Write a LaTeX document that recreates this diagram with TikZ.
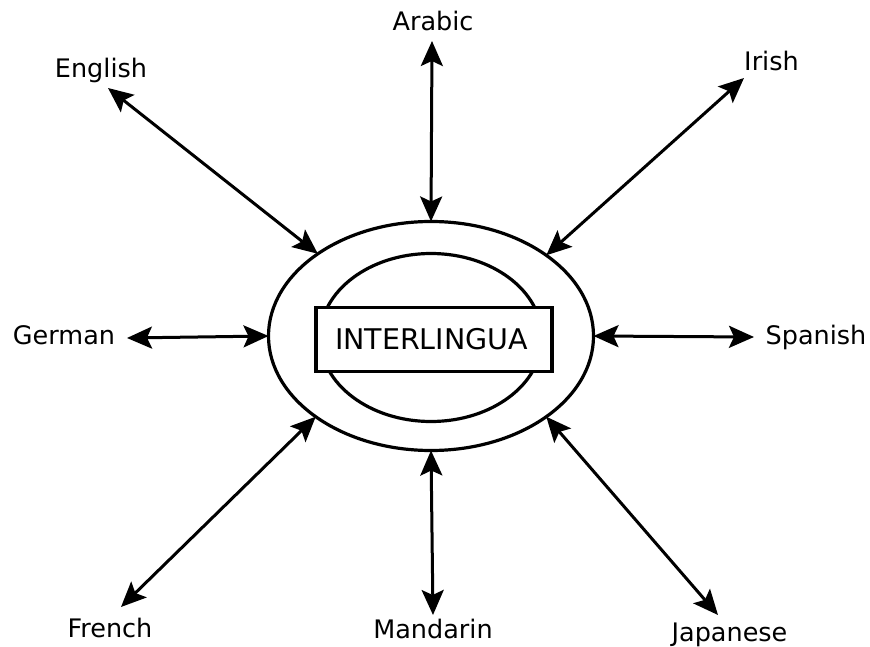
\documentclass[tikz,border=0pt]{standalone}
\usepackage{fontspec}
\setmainfont{DejaVu Sans}
\usetikzlibrary{arrows.meta,shapes.geometric}
\begin{document}
\begin{tikzpicture}[x=1pt,y=-1pt,
  lang/.style={anchor=base,inner sep=0pt,font=\fontsize{25.5}{30}\selectfont},
  ring/.style={draw,ellipse,line width=3.2pt,inner sep=0pt,outer sep=0pt},
  box/.style={draw,rectangle,line width=3.2pt,inner sep=0pt,minimum width=236pt,minimum height=64pt,font=\fontsize{28.5}{34}\selectfont},
  link/.style={line width=3pt,{Stealth[length=25pt 0 0,width=22pt 0 0,inset=5pt 0 0]}-{Stealth[length=25pt 0 0,width=22pt 0 0,inset=5pt 0 0]}}]
\useasboundingbox (0,0) rectangle (870,647);
% central shapes
\node[ring,minimum width=325pt,minimum height=229pt] (outer) at (431,336) {};
\node[ring,minimum width=222pt,minimum height=168pt] (inner) at (431,337.5) {};
\node[box,fill=white] (ilang) at (434,339.5) {\hspace*{-5pt}INTERLINGUA};
% labels
\node[lang] (arabic) at (433,31) {Arabic};
\node[lang] (english) at (101,78) {English};
\node[lang] (irish) at (771.5,71) {Irish};
\node[lang] (german) at (64,344) {German};
\node[lang] (spanish) at (816,344) {Spanish};
\node[lang] (french) at (110,637) {French};
\node[lang] (mandarin) at (433,638) {Mandarin};
\node[lang] (japanese) at (729.5,641) {Japanese};
% arrow ends near the labels
\coordinate (tA) at (432,41);
\coordinate (tEn) at (108,88);
\coordinate (tI) at (744,78);
\coordinate (tG) at (127,338);
\coordinate (tS) at (754,337);
\coordinate (tF) at (121,607);
\coordinate (tM) at (433,615);
\coordinate (tJ) at (718,615);
% connectors
\draw[link] (tA) -- (outer.90);
\draw[link] (tEn) -- (outer.144.4);
\draw[link] (tI) -- (outer.35.7);
\draw[link] (tG) -- (outer.180);
\draw[link] (tS) -- (outer.0);
\draw[link] (tF) -- (outer.215.7);
\draw[link] (tM) -- (outer.270);
\draw[link] (tJ) -- (outer.-35.5);
\end{tikzpicture}
\end{document}
